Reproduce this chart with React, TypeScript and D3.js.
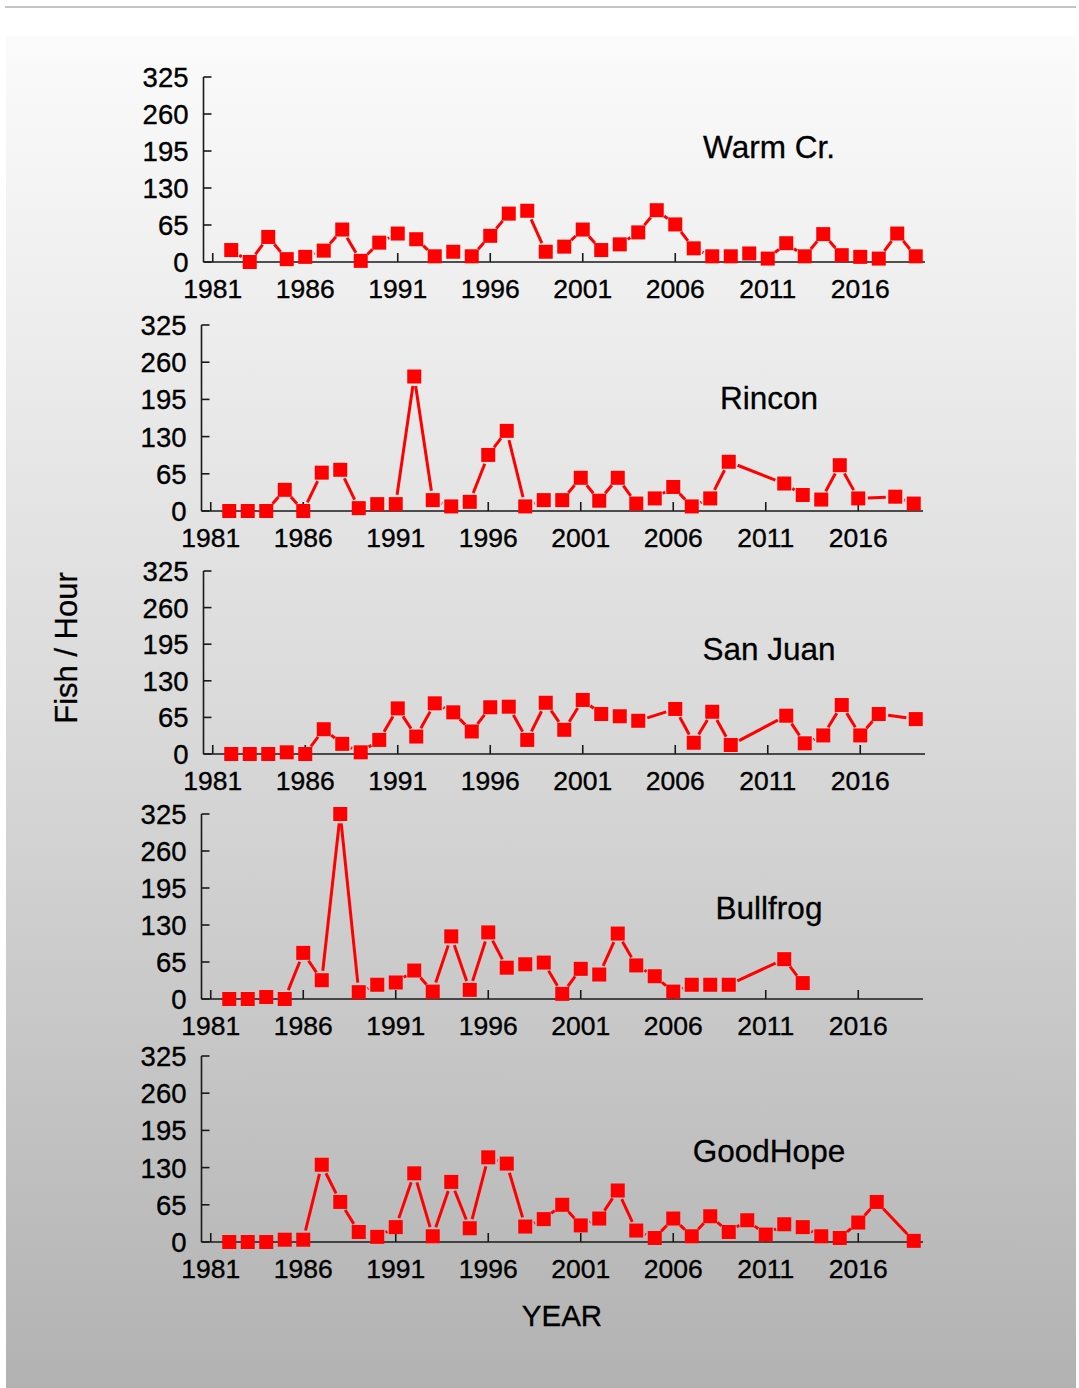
import React from "react";
import * as d3 from "d3";

// ---------- DATA ----------
const siteNames = ["Warm Cr.", "Rincon", "San Juan", "Bullfrog", "GoodHope"];

const warmYears = [1982, 1983, 1984, 1985, 1986, 1987, 1988, 1989, 1990, 1991, 1992, 1993, 1994, 1995, 1996, 1997, 1998, 1999, 2000, 2001, 2002, 2003, 2004, 2005, 2006, 2007, 2008, 2009, 2010, 2011, 2012, 2013, 2014, 2015, 2016, 2017, 2018, 2019];
const warmValues = [21, 0, 44, 5, 9, 20, 57, 2, 34, 50, 40, 10, 18, 10, 46, 85, 90, 18, 27, 57, 21, 31, 52, 91, 66, 24, 10, 10, 15, 6, 33, 10, 49, 12, 9, 6, 50, 10];

const rinconYears = [1982, 1983, 1984, 1985, 1986, 1987, 1988, 1989, 1990, 1991, 1992, 1993, 1994, 1995, 1996, 1997, 1998, 1999, 2000, 2001, 2002, 2003, 2004, 2005, 2006, 2007, 2008, 2009, 2012, 2013, 2014, 2015, 2016, 2018, 2019];
const rinconValues = [0, 0, 0, 37, 0, 67, 72, 5, 12, 12, 235, 19, 8, 16, 98, 140, 8, 19, 19, 58, 18, 58, 13, 22, 42, 8, 22, 86, 48, 28, 20, 80, 22, 25, 13];

const sanJuanYears = [1982, 1983, 1984, 1985, 1986, 1987, 1988, 1989, 1990, 1991, 1992, 1993, 1994, 1995, 1996, 1997, 1998, 1999, 2000, 2001, 2002, 2003, 2004, 2006, 2007, 2008, 2009, 2012, 2013, 2014, 2015, 2016, 2017, 2019];
const sanJuanValues = [0, 0, 0, 3, 0, 44, 18, 3, 25, 81, 31, 90, 74, 40, 83, 84, 25, 91, 43, 96, 71, 67, 59, 80, 20, 75, 16, 68, 19, 33, 87, 33, 71, 62];

const bullfrogYears = [1982, 1983, 1984, 1985, 1986, 1987, 1988, 1989, 1990, 1991, 1992, 1993, 1994, 1995, 1996, 1997, 1998, 1999, 2000, 2001, 2002, 2003, 2004, 2005, 2006, 2007, 2008, 2009, 2012, 2013];
const bullfrogValues = [0, 0, 3.5, 0, 81, 33, 325, 12, 25, 29, 50, 13, 110, 16, 117, 55, 61, 64, 9, 53, 43, 115, 59, 40, 13, 25, 25, 25, 70, 28];

const goodHopeYears = [1982, 1983, 1984, 1985, 1986, 1987, 1988, 1989, 1990, 1991, 1992, 1993, 1994, 1995, 1996, 1997, 1998, 1999, 2000, 2001, 2002, 2003, 2004, 2005, 2006, 2007, 2008, 2009, 2010, 2011, 2012, 2013, 2014, 2015, 2016, 2017, 2019];
const goodHopeValues = [0, 0, 0, 4, 4, 135, 70, 17.5, 9, 26, 120, 10, 105, 24, 148, 137, 27, 40, 65, 29, 41, 90, 20, 7, 41, 10, 45, 17.5, 38, 13, 31, 26, 10, 7, 34, 70, 2];

const yTicks = [0, 65, 130, 195, 260, 325];
const xTicks = [1981, 1986, 1991, 1996, 2001, 2006, 2011, 2016];
const yAxisTitle = "Fish / Hour";
const xAxisTitle = "YEAR";

// ---------- LAYOUT ----------
const W = 1079;
const H = 1388;
const FONT = "'Liberation Sans', Arial, Helvetica, sans-serif";
const panelLayout = [
  { top: 77, zero: 262, axisX: 203.5, titleY: 158 },
  { top: 325, zero: 511, axisX: 201.5, titleY: 409 },
  { top: 571, zero: 754, axisX: 203.5, titleY: 660 },
  { top: 814, zero: 999, axisX: 201.5, titleY: 919 },
  { top: 1056, zero: 1242, axisX: 201.5, titleY: 1162 },
];
const plotWidth = 721.5;
const markerSize = 14;
const lineTrim = 9.5;

const seriesYears = [warmYears, rinconYears, sanJuanYears, bullfrogYears, goodHopeYears];
const seriesValues = [warmValues, rinconValues, sanJuanValues, bullfrogValues, goodHopeValues];

function Panel({ idx }: { idx: number }) {
  const L = panelLayout[idx];
  const x = d3.scaleLinear().domain([1980.5, 2019.5]).range([L.axisX, L.axisX + plotWidth]);
  const y = d3.scaleLinear().domain([0, 325]).range([L.zero, L.top]);
  const years = seriesYears[idx];
  const vals = seriesValues[idx];
  const pts = years.map((yr, i) => [x(yr), y(vals[i])] as [number, number]);

  const segs: string[] = [];
  for (let i = 0; i < pts.length - 1; i++) {
    const [x0, y0] = pts[i];
    const [x1, y1] = pts[i + 1];
    const dx = x1 - x0, dy = y1 - y0;
    const len = Math.hypot(dx, dy);
    if (len <= 2 * lineTrim + 0.5) continue;
    const ux = dx / len, uy = dy / len;
    const p = d3.path();
    p.moveTo(x0 + ux * lineTrim, y0 + uy * lineTrim);
    p.lineTo(x1 - ux * lineTrim, y1 - uy * lineTrim);
    segs.push(p.toString());
  }

  const xEnd = L.axisX + plotWidth;
  return (
    <g>
      <line x1={L.axisX} x2={L.axisX} y1={y(325)} y2={y(0)} stroke="#1a1a1a" strokeWidth={1.6} />
      <line x1={L.axisX} x2={xEnd} y1={y(0)} y2={y(0)} stroke="#1a1a1a" strokeWidth={1.6} />
      {yTicks.map((t) => (
        <g key={"y" + t}>
          <line x1={L.axisX} x2={L.axisX + 8} y1={y(t)} y2={y(t)} stroke="#1a1a1a" strokeWidth={1.6} />
          <text x={L.axisX - 15} y={y(t)} dy="0.36em" textAnchor="end" fontSize={27.5} fontFamily={FONT} fill="#000" stroke="#000" strokeWidth={0.35}>
            {t}
          </text>
        </g>
      ))}
      {xTicks.map((t) => (
        <g key={"x" + t}>
          <line x1={x(t)} x2={x(t)} y1={y(0)} y2={y(0) - 9} stroke="#1a1a1a" strokeWidth={1.6} />
          <text x={x(t)} y={y(0) + 36} textAnchor="middle" fontSize={26.5} fontFamily={FONT} fill="#000" stroke="#000" strokeWidth={0.35}>
            {t}
          </text>
        </g>
      ))}
      {segs.map((d, i) => (
        <path key={"s" + i} d={d} stroke="#ff0000" strokeWidth={3} fill="none" />
      ))}
      {pts.map(([px, py], i) => (
        <rect key={"m" + i} x={px - markerSize / 2} y={py - markerSize / 2} width={markerSize} height={markerSize} fill="#ff0000" />
      ))}
      <text x={769} y={L.titleY} textAnchor="middle" fontSize={31.5} fontFamily={FONT} fill="#000" stroke="#000" strokeWidth={0.3}>
        {siteNames[idx]}
      </text>
    </g>
  );
}

export default function App() {
  return (
    <svg
      width={W}
      height={H}
      viewBox={`0 0 ${W} ${H}`}
      style={{ position: "absolute", left: 0, top: 0, display: "block" }}
    >
      <defs>
        <linearGradient id="bg" x1="0" y1="0" x2="0" y2="1">
          <stop offset="0" stopColor="#fbfbfb" />
          <stop offset="0.5" stopColor="#dadada" />
          <stop offset="1" stopColor="#b2b2b2" />
        </linearGradient>
      </defs>
      <rect x={0} y={0} width={W} height={H} fill="#ffffff" />
      <line x1={5} x2={1076} y1={7} y2={7} stroke="#b0b0b0" strokeWidth={1.5} />
      <rect x={6} y={36} width={1070} height={H - 36} fill="url(#bg)" />
      {panelLayout.map((_, i) => (
        <Panel key={i} idx={i} />
      ))}
      <text
        transform={`translate(66,648) rotate(-90)`}
        textAnchor="middle"
        dy="0.36em"
        fontSize={31}
        fontFamily={FONT}
        fill="#000"
        stroke="#000"
        strokeWidth={0.3}
      >
        {yAxisTitle}
      </text>
      <text x={562} y={1326} textAnchor="middle" fontSize={29.5} fontFamily={FONT} fill="#000" stroke="#000" strokeWidth={0.3}>
        {xAxisTitle}
      </text>
    </svg>
  );
}
